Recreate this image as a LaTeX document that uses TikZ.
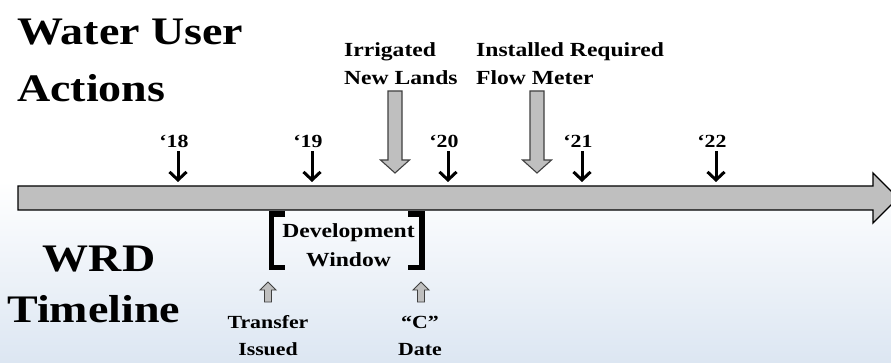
\documentclass[tikz,border=0pt]{standalone}
\usepackage{fontspec}
\setmainfont{Liberation Serif}[FakeStretch=1.18]
\usetikzlibrary{arrows.meta}
\definecolor{bargray}{HTML}{BFBFBF}
\definecolor{edgegray}{HTML}{404040}
\definecolor{bgblue}{HTML}{DCE6F2}
\begin{document}
\begin{tikzpicture}[x=1pt,y=-1pt,
  big/.style={font=\fontsize{39}{45}\selectfont\bfseries, inner sep=0pt},
  lbl/.style={font=\fontsize{20}{28}\selectfont\bfseries, inner sep=0pt, align=left},
  lblc/.style={font=\fontsize{20}{29}\selectfont\bfseries, inner sep=0pt, align=center},
  lbls/.style={font=\fontsize{18.5}{27}\selectfont\bfseries, inner sep=0pt, align=center},
  yr/.style={font=\fontsize{18.5}{22}\selectfont\bfseries, inner sep=0pt},
  yearar/.style={line width=3pt, -{Straight Barb[length=8pt,width=17pt]}},
  blockar/.style={fill=bargray, draw=edgegray, line width=1.1pt, line join=miter},
  mainar/.style={fill=bargray, draw=black, line width=1.3pt, line join=miter},
  brack/.style={line width=5.5pt, line join=miter}
]
\clip (0,0) rectangle (891,363);
\useasboundingbox (0,0) rectangle (891,363);
\fill[white] (0,0) rectangle (891,363);
\shade[top color=white, bottom color=bgblue] (0,181) rectangle (891,363);

% main timeline arrow
\draw[mainar] (18,186) -- (873,186) -- (873,173) -- (898,198) -- (873,223) -- (873,210) -- (18,210) -- cycle;

% titles
\node[big, anchor=base west] (t1) at (17,45) {Water User};
\node[big, anchor=base west] (t2) at (17,102) {Actions};
\node[big, anchor=base] (wrd) at (99,272) {WRD};
\node[big, anchor=base west] (tl) at (7,322) {Timeline};

% years
\foreach \n/\x in {18/178,19/312,20/448,21/582,22/716}{
  \node[yr, anchor=base] (y\n) at (\x-4,148) {‘\n};
  \coordinate (t\n) at (\x,182);
  \draw[yearar] ([yshift=-3pt]y\n.south -| t\n) -- (t\n);
}

% water user actions
\node[lbl, anchor=base west] (irr) at (344,85) {Irrigated\\New Lands};
\node[lbl, anchor=base west] (flow) at (476,85) {Installed Required\\Flow Meter};
\draw[blockar] (388,91) -- (402,91) -- (402,160) -- (409.5,160) -- (395,173) -- (380.5,160) -- (388,160) -- cycle;
\draw[blockar] (530,91) -- (544,91) -- (544,160) -- (551.5,160) -- (537,173) -- (522.5,160) -- (530,160) -- cycle;

% development window
\draw[brack] (285,214) -- (271.5,214) -- (271.5,267.5) -- (285,267.5);
\draw[brack] (408,214) -- (422,214) -- (422,267.5) -- (408,267.5);
\node[lblc, anchor=base] (dev) at (348.5,267) {Development\\Window};

% WRD events
\draw[blockar, line width=0.9pt] (264.5,302) -- (264.5,290) -- (260,290) -- (268,282) -- (276,290) -- (271.5,290) -- (271.5,302) -- cycle;
\draw[blockar, line width=0.9pt] (417.5,302) -- (417.5,290) -- (413,290) -- (421,282) -- (429,290) -- (424.5,290) -- (424.5,302) -- cycle;
\node[lbls, anchor=base] (tr) at (268,355) {Transfer\\Issued};
\node[lbls, anchor=base] (cd) at (420,355) {“C”\\Date};
\end{tikzpicture}
\end{document}
